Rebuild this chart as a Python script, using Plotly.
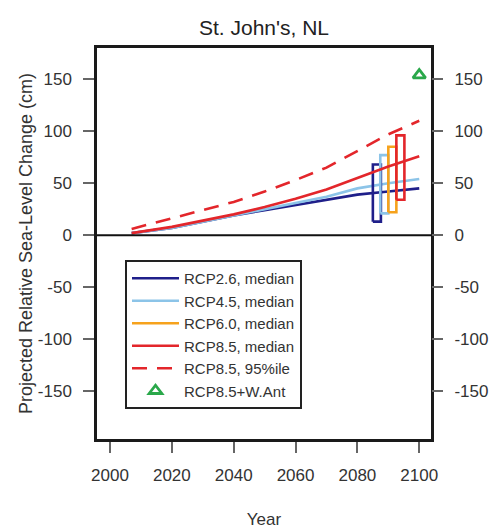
import plotly.graph_objects as go

years = [2007, 2020, 2030, 2040, 2050, 2060, 2070, 2080, 2090, 2100]
rcp26_median = [2, 7, 13, 19, 24, 29, 34, 39, 42, 45]
rcp45_median = [2, 7, 13, 19, 25, 31, 37, 45, 50, 54]
rcp85_median = [2, 8, 14, 20, 27, 35, 44, 55, 66, 76]
rcp85_p95 = [6, 16, 24, 32, 42, 53, 65, 81, 97, 110]

box_names = ["RCP2.6", "RCP4.5", "RCP6.0", "RCP8.5"]
box_center = [2086.3, 2088.7, 2091.3, 2093.9]
box_low = [13, 21, 22, 34]
box_high = [68, 77, 85, 96]
box_halfwidth = 1.3

want_year = [2100]
want_value = [154]

y_tickvals = [-150, -100, -50, 0, 50, 100, 150]
y_ticktext = ["-150", "-100", "-50", "0", "50", "100", "150"]
x_tickvals = [2000, 2020, 2040, 2060, 2080, 2100]

colors = {"RCP2.6": "#1f1f8a", "RCP4.5": "#8cc4e8", "RCP6.0": "#f6a21c", "RCP8.5": "#e3262b"}
green = "#2aa84a"
LW = 2.6
FONT = "Liberation Sans, Arial, sans-serif"

fig = go.Figure()

fig.add_trace(go.Scatter(x=years, y=rcp26_median, mode="lines", name="RCP2.6, median",
                         line=dict(color=colors["RCP2.6"], width=LW), legendrank=1))
fig.add_trace(go.Scatter(x=years, y=rcp45_median, mode="lines", name="RCP4.5, median",
                         line=dict(color=colors["RCP4.5"], width=LW), legendrank=2))

for nm, c, lo, hi in zip(box_names, box_center, box_low, box_high):
    bx = [c - box_halfwidth, c + box_halfwidth, c + box_halfwidth, c - box_halfwidth, c - box_halfwidth]
    by = [lo, lo, hi, hi, lo]
    show = nm == "RCP6.0"
    fig.add_trace(go.Scatter(x=bx, y=by, mode="lines", name="RCP6.0, median" if show else nm,
                             line=dict(color=colors[nm], width=LW), showlegend=show, legendrank=3))

fig.add_trace(go.Scatter(x=years, y=rcp85_median, mode="lines", name="RCP8.5, median",
                         line=dict(color=colors["RCP8.5"], width=LW), legendrank=4))
fig.add_trace(go.Scatter(x=years, y=rcp85_p95, mode="lines", name="RCP8.5, 95%ile",
                         line=dict(color=colors["RCP8.5"], width=LW, dash="15px,10px"), legendrank=5))
fig.add_trace(go.Scatter(x=want_year, y=want_value, mode="markers", name="RCP8.5+W.Ant",
                         marker=dict(symbol="triangle-up-open", size=11, color=green,
                                     line=dict(color=green, width=2.8)), legendrank=6))

xr = [1995.8, 2103.8]
yr = [-196, 180]

# zero line
fig.add_trace(go.Scatter(x=xr, y=[0, 0], mode="lines", showlegend=False,
                         line=dict(color="#111111", width=2), hoverinfo="skip"))

# dummy for right axis
fig.add_trace(go.Scatter(x=[2000], y=[0], yaxis="y2", mode="markers", showlegend=False,
                         marker=dict(opacity=0), hoverinfo="skip"))

tickfont = dict(family=FONT, size=17, color="#333333")
axis_common = dict(ticks="outside", ticklen=11, tickcolor="#666666", tickwidth=1.5,
                   showgrid=False, zeroline=False, tickfont=tickfont, ticklabelstandoff=8,
                   automargin=False)

fig.update_layout(
    width=490, height=529,
    margin=dict(l=97, r=59, t=48, b=90),
    paper_bgcolor="white", plot_bgcolor="white",
    title=dict(text="St. John's, NL", x=0.5, xref="paper", y=1 - 28 / 529, yanchor="middle",
               font=dict(family=FONT, size=21, color="#222222")),
    xaxis=dict(range=xr, tickvals=x_tickvals, showline=True, linecolor="#1a1a1a", linewidth=2.5,
               mirror=True, **axis_common,
               title=dict(text="Year", font=dict(family=FONT, size=17, color="#333333"), standoff=30)),
    yaxis=dict(range=yr, tickvals=y_tickvals, ticktext=y_ticktext, showline=True,
               linecolor="#1a1a1a", linewidth=2.5, mirror=True, **axis_common,
               title=dict(text="Projected Relative Sea-Level Change (cm)",
                          font=dict(family=FONT, size=18, color="#333333"), standoff=1)),
    yaxis2=dict(range=yr, tickvals=y_tickvals, ticktext=y_ticktext, overlaying="y", side="right",
                showline=False, **axis_common),
    legend=dict(x=(125 - 97) / 334, y=1 - (260 - 48) / 391, xanchor="left", yanchor="top",
                bgcolor="white", bordercolor="#222222", borderwidth=2,
                font=dict(family=FONT, size=15, color="#333333"),
                tracegroupgap=0, itemwidth=47),
    showlegend=True,
)

fig.write_html("out.html")
